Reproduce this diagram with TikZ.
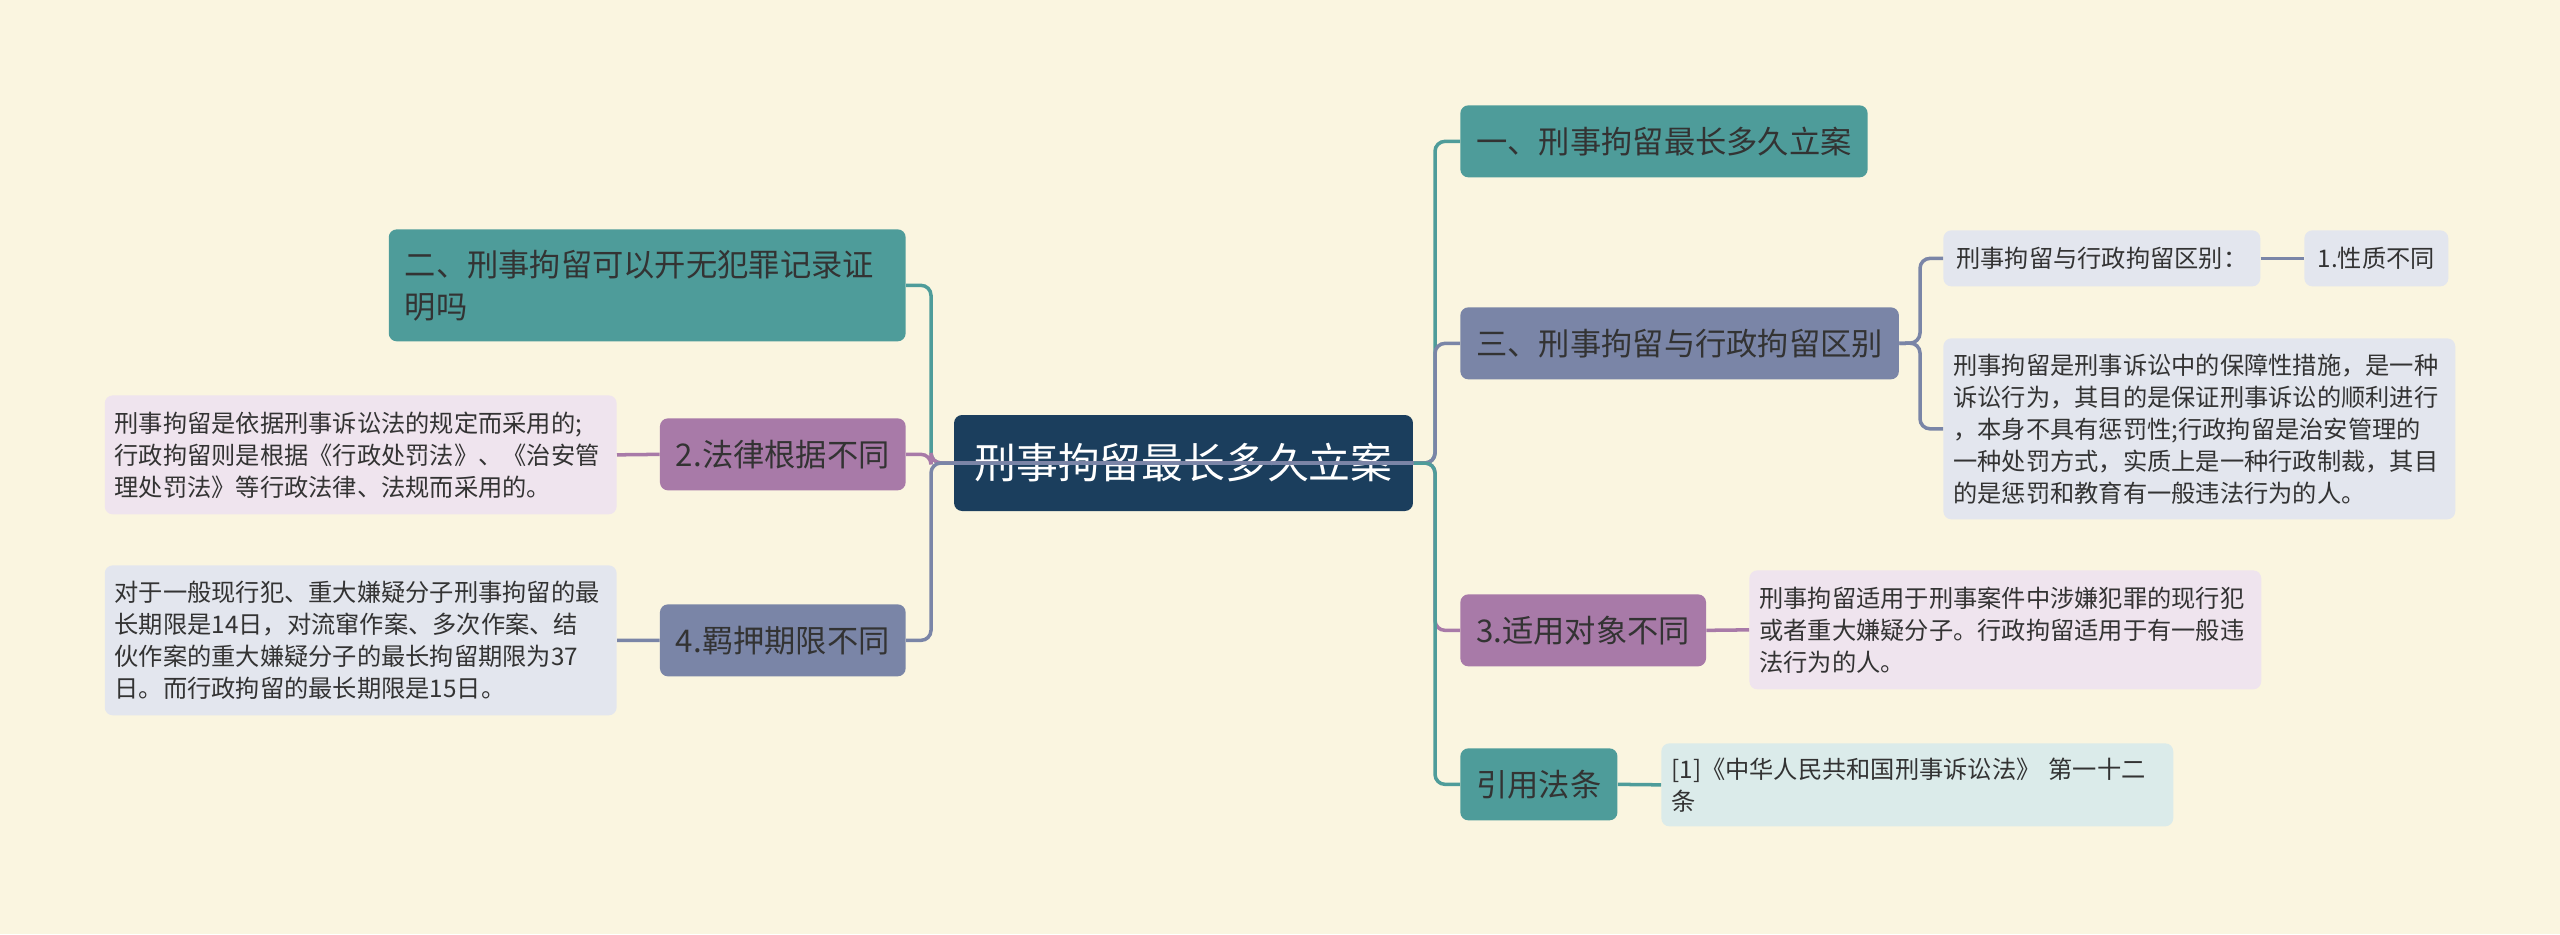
\documentclass[tikz,border=0pt]{standalone}
\usepackage{fontspec}
\setmainfont{Noto Sans CJK SC}
\usepackage{tikz}
\usetikzlibrary{positioning}
\definecolor{bgcream}{HTML}{FAF5E0}
\definecolor{rootnavy}{HTML}{1B3E5D}
\definecolor{topicteal}{HTML}{4E9C9A}
\definecolor{topicslate}{HTML}{7A85A7}
\definecolor{topicplum}{HTML}{A87AA8}
\definecolor{leafpink}{HTML}{EFE4EE}
\definecolor{leafgrey}{HTML}{E3E6EE}
\definecolor{leafcyan}{HTML}{DBEBEA}
\definecolor{inkdark}{HTML}{333333}
\tikzstyle{box} = [rounded corners=0.16cm, inner ysep=0pt, align=left]
\tikzstyle{topic} = [box, inner xsep=0.32cm, text=inkdark, minimum height=1.44cm,
    font=\fontsize{17.8pt}{23.9pt}\selectfont]
\tikzstyle{leaf} = [box, inner xsep=0.2cm, text=inkdark, text width=9.84cm,
    font=\fontsize{13.8pt}{18.2pt}\selectfont]
\tikzstyle{link} = [line width=2pt, rounded corners=0.2cm]

\begin{document}
\begin{tikzpicture}[x=0.02cm,y=-0.02cm]
    \fill[bgcream] (0,0) rectangle (2560,934);
    \useasboundingbox (0,0) rectangle (2560,934);
    % centre
    \node[box, fill=rootnavy, text=white, align=center, minimum width=9.18cm, minimum height=1.92cm,
        font=\fontsize{23.8pt}{28pt}\selectfont] (root) at (1183.5,463) {刑事拘留最长多久立案};
    \coordinate (rtrunk) at (1435,463);
    \coordinate (ltrunk) at (931,463);
    % left side
    \node[topic, fill=topicteal, anchor=north east, text width=9.7cm, minimum height=2.24cm,
        font=\fontsize{17.8pt}{23.9pt}\selectfont] (jilu) at (906,229)
        {二、刑事拘留可以开无犯罪记录证\\明吗};
    \node[topic, fill=topicplum, anchor=north east] (yiju) at (906,418) {2.法律根据不同};
    \node[leaf, fill=leafpink, anchor=north east, minimum height=2.38cm] (yijutxt) at (617,395)
        {刑事拘留是依据刑事诉讼法的规定而采用的;\\行政拘留则是根据《行政处罚法》、《治安管\\理处罚法》等行政法律、法规而采用的。};
    \node[topic, fill=topicslate, anchor=north east] (qixian) at (906,604) {4.羁押期限不同};
    \node[leaf, fill=leafgrey, anchor=north east, minimum height=3.0cm] (qixiantxt) at (617,565)
        {对于一般现行犯、重大嫌疑分子刑事拘留的最\\长期限是14日，对流窜作案、多次作案、结\\伙作案的重大嫌疑分子的最长拘留期限为37\\日。而行政拘留的最长期限是15日。};
    % right side
    \node[topic, fill=topicteal, anchor=north west] (lian) at (1460,105) {一、刑事拘留最长多久立案};
    \node[topic, fill=topicslate, anchor=north west] (qubie) at (1460,307) {三、刑事拘留与行政拘留区别};
    \coordinate (qtrunk) at (1920,343);
    \node[box, fill=leafgrey, text=inkdark, anchor=north west, minimum width=6.34cm, minimum height=1.12cm,
        font=\fontsize{13.8pt}{18.2pt}\selectfont] (qubiehead) at (1943,230) {刑事拘留与行政拘留区别：};
    \node[box, fill=leafgrey, text=inkdark, anchor=north west, minimum width=2.88cm, minimum height=1.12cm,
        font=\fontsize{13.8pt}{18.2pt}\selectfont] (xingzhi) at (2304,230) {1.性质不同};
    \node[leaf, fill=leafgrey, anchor=north west, minimum height=3.62cm] (qubietxt) at (1943,338)
        {刑事拘留是刑事诉讼中的保障性措施，是一种\\诉讼行为，其目的是保证刑事诉讼的顺利进行\\，本身不具有惩罚性;行政拘留是治安管理的\\一种处罚方式，实质上是一种行政制裁，其目\\的是惩罚和教育有一般违法行为的人。};
    \node[topic, fill=topicplum, anchor=north west] (duixiang) at (1460,594) {3.适用对象不同};
    \node[leaf, fill=leafpink, anchor=north west, minimum height=2.38cm] (duixiangtxt) at (1749,570)
        {刑事拘留适用于刑事案件中涉嫌犯罪的现行犯\\或者重大嫌疑分子。行政拘留适用于有一般违\\法行为的人。};
    \node[topic, fill=topicteal, anchor=north west] (fatiao) at (1460,748) {引用法条};
    \node[leaf, fill=leafcyan, anchor=north west, minimum height=1.66cm] (fatiaotxt) at (1661,743)
        {[1]《中华人民共和国刑事诉讼法》 第一十二\\条};
    % connectors
    \draw[link, topicteal] (root.east) -- (rtrunk) |- (lian.west);
    \draw[link, topicslate] (root.east) -- (rtrunk) |- (qubie.west);
    \draw[link, topicplum] (root.east) -- (rtrunk) |- (duixiang.west);
    \draw[link, topicteal] (root.east) -- (rtrunk) |- (fatiao.west);
    \draw[link, topicteal] (root.east) -- (root.west) -- (ltrunk) |- (jilu.east);
    \draw[link, topicplum] (root.east) -- (root.west) -- (ltrunk) |- (yiju.east);
    \draw[link, topicslate] (root.east) -- (root.west) -- (ltrunk) |- (qixian.east);
    \draw[link, topicslate] (qubie.east) -- (qtrunk) |- (qubiehead.west);
    \draw[link, topicslate] (qubie.east) -- (qtrunk) |- (qubietxt.west);
    \draw[link, topicslate] (qubiehead.east) -- (xingzhi.west);
    \draw[link, topicplum] (duixiang.east) -- (duixiangtxt.west);
    \draw[link, topicteal] (fatiao.east) -- (fatiaotxt.west);
    \draw[link, topicplum] (yiju.west) -- (yijutxt.east);
    \draw[link, topicslate] (qixian.west) -- (qixiantxt.east);
\end{tikzpicture}
\end{document}
